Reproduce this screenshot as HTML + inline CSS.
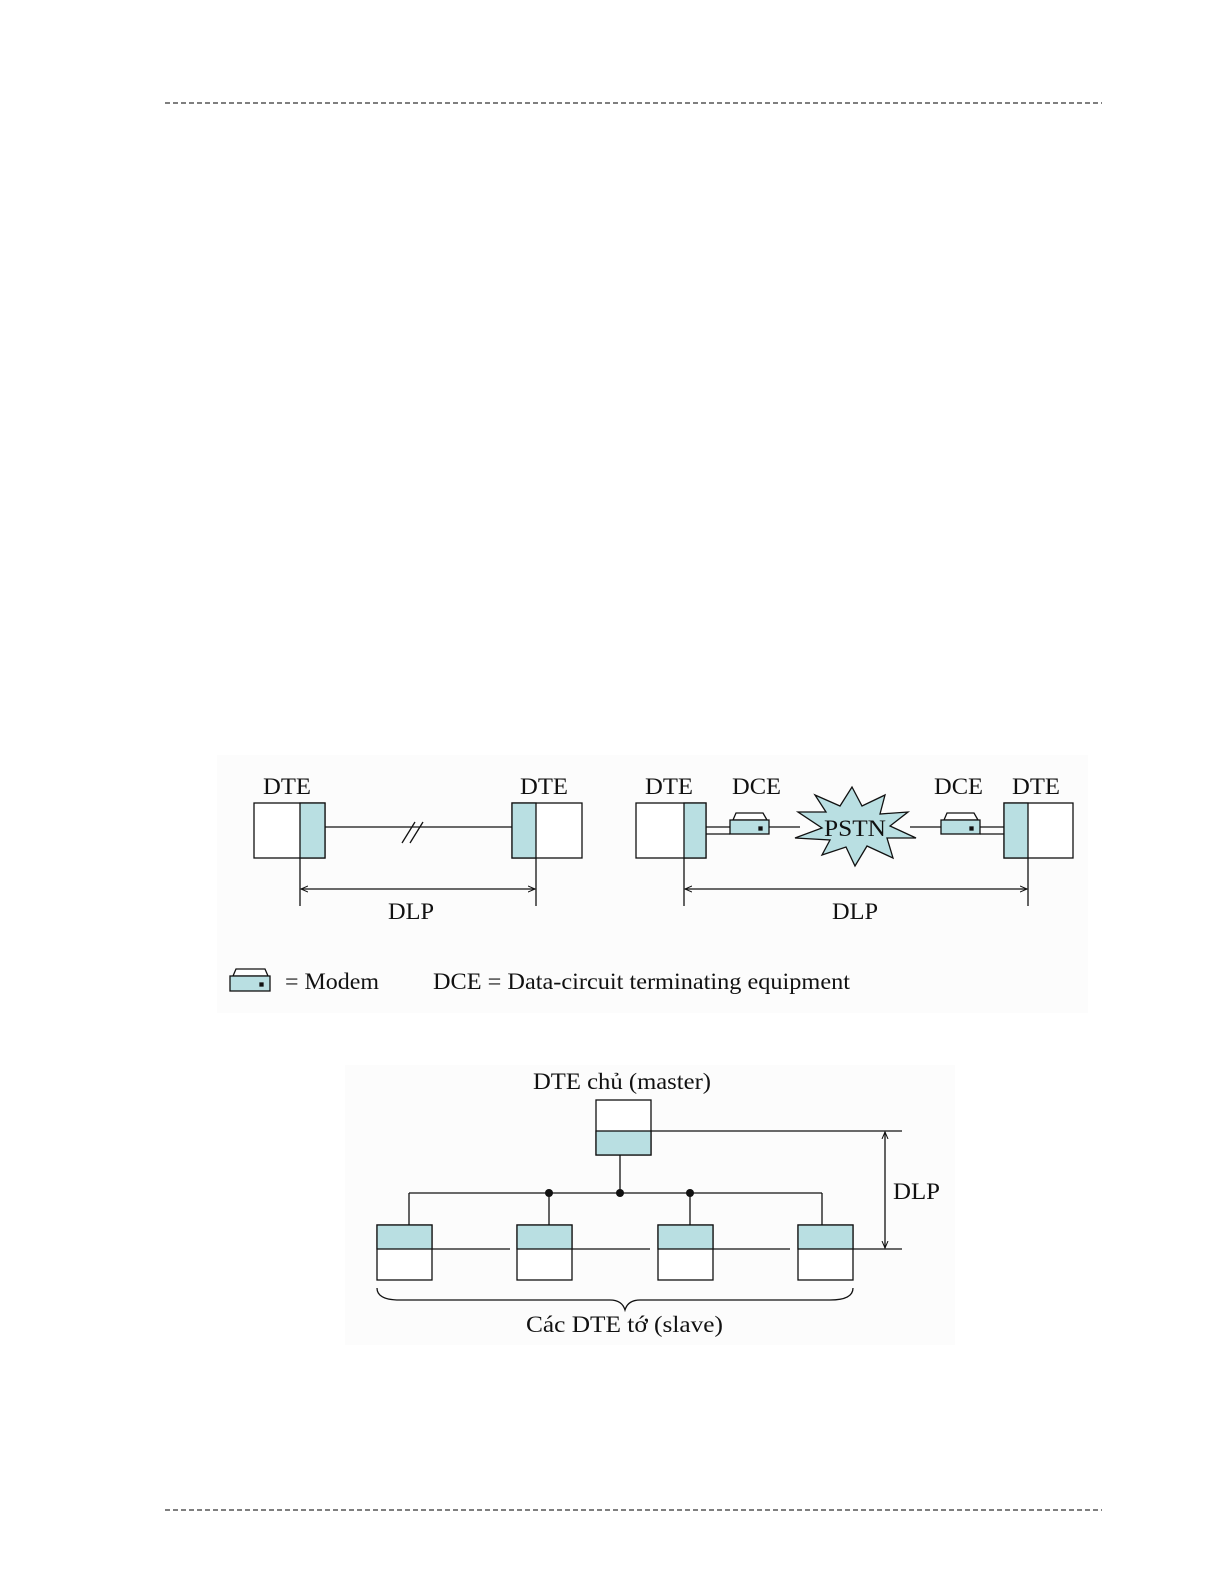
<!DOCTYPE html>
<html><head><meta charset="utf-8"><style>
html,body{margin:0;padding:0;background:#fff;overflow:hidden;width:1225px;height:1585px}
svg{display:block}
text{font-family:"Liberation Serif",serif;font-size:23px;fill:#111}
</style></head><body>
<svg width="1225" height="1585" viewBox="0 0 1225 1585" xmlns="http://www.w3.org/2000/svg">
<line x1="165" y1="103" x2="1102" y2="103" stroke="#333" stroke-width="1.2" stroke-dasharray="5,3"/>
<line x1="165" y1="1510" x2="1102" y2="1510" stroke="#333" stroke-width="1.2" stroke-dasharray="5,3"/>
<defs>
<marker id="a" markerWidth="8" markerHeight="8" refX="7" refY="4" orient="auto-start-reverse" markerUnits="userSpaceOnUse"><path d="M0,1 L7,4 L0,7" fill="none" stroke="#111" stroke-width="1"/></marker>
</defs>
<rect x="217" y="755" width="871" height="258" fill="#fcfcfc"/>
<g stroke="#111" stroke-width="1.3">
<rect x="254" y="803" width="71" height="55" fill="#fff"/>
<rect x="300" y="803" width="25" height="55" fill="#b9dfe2"/>
<rect x="512" y="803" width="70" height="55" fill="#fff"/>
<rect x="512" y="803" width="24" height="55" fill="#b9dfe2"/>
<line x1="325" y1="827" x2="512" y2="827"/>
<line x1="402" y1="843" x2="415" y2="822"/><line x1="410" y1="843" x2="423" y2="822"/>
<line x1="300" y1="858" x2="300" y2="906"/><line x1="536" y1="858" x2="536" y2="906"/>
<line x1="301" y1="889" x2="535" y2="889" marker-start="url(#a)" marker-end="url(#a)"/>

<rect x="636" y="803" width="70" height="55" fill="#fff"/>
<rect x="684" y="803" width="22" height="55" fill="#b9dfe2"/>
<line x1="706" y1="827" x2="730" y2="827"/><line x1="706" y1="834" x2="730" y2="834"/>
<path d="M733,820 L736,813 L763,813 L767,820 Z" fill="#fff"/>
<rect x="730" y="820" width="39" height="14" fill="#b9dfe2"/>
<rect x="759" y="827" width="3" height="3" fill="#111"/>
<line x1="769" y1="827" x2="800" y2="827"/>
<path d="M798,812 L826,812 L815,795 L840,806 L852,787 L862,806 L885,795 L880,814 L908,812 L890,826 L916,838 L887,838 L893,858 L867,846 L855,866 L846,847 L822,855 L830,840 L795,838 L822,828 Z" fill="#b9dfe2"/>
<line x1="910" y1="827" x2="941" y2="827"/>
<path d="M944,820 L947,813 L974,813 L978,820 Z" fill="#fff"/>
<rect x="941" y="820" width="39" height="14" fill="#b9dfe2"/>
<rect x="970" y="827" width="3" height="3" fill="#111"/>
<line x1="980" y1="827" x2="1004" y2="827"/><line x1="980" y1="834" x2="1004" y2="834"/>
<rect x="1004" y="803" width="69" height="55" fill="#fff"/>
<rect x="1004" y="803" width="24" height="55" fill="#b9dfe2"/>
<line x1="684" y1="858" x2="684" y2="906"/><line x1="1028" y1="858" x2="1028" y2="906"/>
<line x1="685" y1="889" x2="1027" y2="889" marker-start="url(#a)" marker-end="url(#a)"/>

<path d="M233,976 L236,969 L265,969 L268,976 Z" fill="#fff"/>
<rect x="230" y="976" width="40" height="15" fill="#b9dfe2"/>
<rect x="260" y="983" width="3" height="3" fill="#111"/>
</g>
<text x="263" y="794" textLength="48" lengthAdjust="spacingAndGlyphs">DTE</text><text x="520" y="794" textLength="48" lengthAdjust="spacingAndGlyphs">DTE</text>
<text x="645" y="794" textLength="48" lengthAdjust="spacingAndGlyphs">DTE</text><text x="732" y="794" textLength="49" lengthAdjust="spacingAndGlyphs">DCE</text>
<text x="824" y="836" textLength="62" lengthAdjust="spacingAndGlyphs">PSTN</text>
<text x="934" y="794" textLength="49" lengthAdjust="spacingAndGlyphs">DCE</text><text x="1012" y="794" textLength="48" lengthAdjust="spacingAndGlyphs">DTE</text>
<text x="388" y="919" textLength="46" lengthAdjust="spacingAndGlyphs">DLP</text><text x="832" y="919" textLength="46" lengthAdjust="spacingAndGlyphs">DLP</text>
<text x="285" y="989" textLength="94" lengthAdjust="spacingAndGlyphs">= Modem</text>
<text x="433" y="989" textLength="417" lengthAdjust="spacingAndGlyphs">DCE = Data-circuit terminating equipment</text>

<rect x="345" y="1065" width="610" height="280" fill="#fcfcfc"/>
<g stroke="#111" stroke-width="1.3" fill="none">
<rect x="596" y="1100" width="55" height="55" fill="#fff"/>
<rect x="596" y="1131" width="55" height="24" fill="#b9dfe2"/>
<line x1="651" y1="1131" x2="902" y2="1131"/>
<line x1="620" y1="1155" x2="620" y2="1193"/>
<line x1="409" y1="1193" x2="822" y2="1193"/>
<line x1="409" y1="1193" x2="409" y2="1225"/><line x1="549" y1="1193" x2="549" y2="1225"/>
<line x1="690" y1="1193" x2="690" y2="1225"/><line x1="822" y1="1193" x2="822" y2="1225"/>
<rect x="377" y="1225" width="55" height="55" fill="#fff"/><rect x="377" y="1225" width="55" height="24" fill="#b9dfe2"/>
<rect x="517" y="1225" width="55" height="55" fill="#fff"/><rect x="517" y="1225" width="55" height="24" fill="#b9dfe2"/>
<rect x="658" y="1225" width="55" height="55" fill="#fff"/><rect x="658" y="1225" width="55" height="24" fill="#b9dfe2"/>
<rect x="798" y="1225" width="55" height="55" fill="#fff"/><rect x="798" y="1225" width="55" height="24" fill="#b9dfe2"/>
<line x1="432" y1="1249" x2="510" y2="1249"/><line x1="572" y1="1249" x2="650" y2="1249"/>
<line x1="713" y1="1249" x2="790" y2="1249"/><line x1="853" y1="1249" x2="902" y2="1249"/>
<line x1="885" y1="1132" x2="885" y2="1248" marker-start="url(#a)" marker-end="url(#a)"/>
<path d="M377,1288 Q377,1300 400,1300 L610,1300 Q622,1300 625,1310 Q628,1300 640,1300 L830,1300 Q853,1300 853,1288"/>
</g>
<circle cx="549" cy="1193" r="4" fill="#111"/><circle cx="620" cy="1193" r="4" fill="#111"/><circle cx="690" cy="1193" r="4" fill="#111"/>
<text x="533" y="1089" textLength="178" lengthAdjust="spacingAndGlyphs">DTE chủ (master)</text>
<text x="893" y="1199" textLength="47" lengthAdjust="spacingAndGlyphs">DLP</text>
<text x="526" y="1332" textLength="197" lengthAdjust="spacingAndGlyphs">Các DTE tớ  (slave)</text>
</svg>
</body></html>
